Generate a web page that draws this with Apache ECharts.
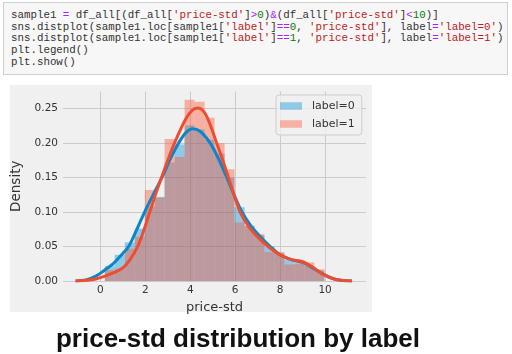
<!DOCTYPE html>
<html>
<head>
<meta charset="utf-8">
<script src="https://cdn.jsdelivr.net/npm/echarts@6/dist/echarts.min.js"></script>
<style>
  html, body { margin: 0; padding: 0; background: #fff; }
  #page { position: relative; width: 512px; height: 354px; overflow: hidden; }
  #code {
    position: absolute; left: 3px; top: 2px; width: 505px; height: 73px;
    background: #f7f7f7; border: 1px solid #cfcfcf; box-sizing: border-box;
    font-family: "Liberation Mono", monospace; font-size: 10.8px; line-height: 11.7px;
    color: #333; padding: 7px 0 0 7px; white-space: pre;
  }
  .s { color: #ba2121; } .o { color: #aa22ff; } .n { color: #008000; }
  #fig { position: absolute; left: 10px; top: 85px; width: 362px; height: 227px; background: #f0f0f0; }
  #chart { position: absolute; left: 0; top: 0; width: 512px; height: 354px; }
  #caption {
    position: absolute; left: 0; width: 476px; top: 323px; text-align: center;
    font-family: "Liberation Sans", Arial, sans-serif; font-weight: bold; font-size: 26px;
    line-height: 30px; color: #111;
  }
</style>
</head>
<body>
<div id="page">
  <div id="code">sample1 <span class="o">=</span> df_all[(df_all[<span class="s">'price-std'</span>]<span class="o">&gt;</span><span class="n">0</span>)<span class="o">&amp;</span>(df_all[<span class="s">'price-std'</span>]<span class="o">&lt;</span><span class="n">10</span>)]
sns.distplot(sample1.loc[sample1[<span class="s">'label'</span>]<span class="o">==</span><span class="n">0</span>, <span class="s">'price-std'</span>], label<span class="o">=</span><span class="s">'label=0'</span>)
sns.distplot(sample1.loc[sample1[<span class="s">'label'</span>]<span class="o">==</span><span class="n">1</span>, <span class="s">'price-std'</span>], label<span class="o">=</span><span class="s">'label=1'</span>)
plt.legend()
plt.show()</div>
  <div id="fig"></div>
  <div id="chart"></div>
  <div id="caption">price-std distribution by label</div>
</div>
<script>
// histogram bin edges (shared by both labels)
var binEdges = [0.20, 0.64, 1.09, 1.53, 1.98, 2.42, 2.86, 3.31, 3.75, 4.19, 4.64, 5.08,
                5.53, 5.97, 6.42, 6.86, 7.30, 7.75, 8.19, 8.64, 9.08, 9.52, 9.97];
// bar heights (density)
var hist0 = [0.022, 0.038, 0.056, 0.076, 0.108, 0.122, 0.172, 0.198, 0.226, 0.220, 0.205,
             0.185, 0.150, 0.107, 0.080, 0.066, 0.050, 0.040, 0.031, 0.025, 0.022, 0.015];
var hist1 = [0.016, 0.018, 0.047, 0.064, 0.132, 0.121, 0.206, 0.180, 0.263, 0.260, 0.237,
             0.200, 0.162, 0.085, 0.080, 0.068, 0.042, 0.042, 0.024, 0.030, 0.027, 0.017];

// kde curves
var kdeX0 = [-1.1, -0.6, -0.2, 0.2, 0.6, 1.0, 1.26, 1.6, 1.97, 2.35, 2.74, 3.1, 3.48, 3.8, 4.1,
             4.45, 4.89, 5.25, 5.63, 5.95, 6.3, 6.7, 7.1, 7.56, 8.0, 8.5, 9.0, 9.4, 9.85, 10.3, 10.7, 11.2];
var kdeY0 = [0.000, 0.002, 0.007, 0.016, 0.026, 0.040, 0.050, 0.073, 0.100, 0.125, 0.150, 0.176, 0.200, 0.215, 0.221,
             0.217, 0.200, 0.178, 0.150, 0.125, 0.100, 0.080, 0.065, 0.050, 0.038, 0.031, 0.027, 0.020, 0.011, 0.004, 0.001, 0.000];
var kdeX1 = [-1.1, -0.6, -0.2, 0.2, 0.6, 1.0, 1.3, 1.66, 1.95, 2.2, 2.45, 2.72, 3.0, 3.3, 3.8, 4.1, 4.35,
             4.7, 5.18, 5.45, 5.70, 5.95, 6.22, 6.6, 7.0, 7.5, 8.0, 8.5, 9.0, 9.4, 9.85, 10.3, 10.7, 11.2];
var kdeY1 = [0.000, 0.001, 0.003, 0.007, 0.012, 0.019, 0.030, 0.050, 0.075, 0.100, 0.125, 0.150, 0.175, 0.200, 0.235, 0.248, 0.251,
             0.241, 0.200, 0.175, 0.150, 0.125, 0.100, 0.079, 0.064, 0.049, 0.038, 0.031, 0.028, 0.021, 0.011, 0.004, 0.001, 0.000];

var xTicks = [0, 2, 4, 6, 8, 10];
var yTicks = [0, 0.05, 0.10, 0.15, 0.20, 0.25];

function histData(h) {
    var out = [];
    for (var i = 0; i < h.length; i++) out.push([binEdges[i], binEdges[i + 1], h[i]]);
    return out;
}
function lineData(xs, ys) {
    return xs.map(function (x, i) { return [x, ys[i]]; });
}
// 直方图矩形
function renderBar(params, api) {
    var p0 = api.coord([api.value(0), api.value(2)]);
    var p1 = api.coord([api.value(1), 0]);
    return {
        type: 'rect',
        shape: { x: p0[0], y: p0[1], width: p1[0] - p0[0], height: p1[1] - p0[1] },
        style: { fill: api.visual('color') }
    };
}

var tickFont = { color: '#333', fontSize: 10.5, fontFamily: 'DejaVu Sans' };

var option = {
    animation: false,
    grid: { left: 63, right: 146, top: 91.5, bottom: 73, outerBoundsMode: 'none' },
    legend: {
        data: ['label=0', 'label=1'],
        orient: 'vertical',
        left: 276, top: 95,
        icon: 'rect',
        itemWidth: 22, itemHeight: 7.5, itemGap: 4,
        padding: [4, 7, 4, 4],
        backgroundColor: 'rgba(240,240,240,0.8)',
        borderColor: '#cccccc', borderWidth: 1, borderRadius: 3,
        textStyle: { color: '#333', fontSize: 11, fontFamily: 'DejaVu Sans', lineHeight: 14, padding: [0, 0, 0, 5] }
    },
    xAxis: {
        type: 'value', min: -1.66, max: 11.82,
        name: 'price-std', nameLocation: 'middle', nameGap: 17,
        nameTextStyle: { color: '#333', fontSize: 13, fontFamily: 'DejaVu Sans' },
        axisLine: { show: false },
        axisTick: { show: false, customValues: xTicks },
        axisLabel: Object.assign({ customValues: xTicks, margin: 4 }, tickFont),
        splitLine: { show: true, lineStyle: { color: '#cbcbcb', width: 1 } }
    },
    yAxis: {
        type: 'value', min: 0, max: 0.275,
        name: 'Density', nameLocation: 'middle', nameGap: 32, nameRotate: 90,
        nameTextStyle: { color: '#333', fontSize: 13.5, fontFamily: 'DejaVu Sans' },
        axisLine: { show: false },
        axisTick: { show: false, customValues: yTicks },
        axisLabel: Object.assign({ customValues: yTicks, margin: 5,
            formatter: function (v) { return v.toFixed(2); } }, tickFont),
        splitLine: { show: true, lineStyle: { color: '#cbcbcb', width: 1 } }
    },
    series: [
        {
            name: 'label=0', type: 'custom', renderItem: renderBar, z: 2,
            itemStyle: { color: 'rgba(0,143,213,0.4)' },
            encode: { x: [0, 1], y: 2 },
            data: histData(hist0)
        },
        {
            name: 'label=1', type: 'custom', renderItem: renderBar, z: 2,
            itemStyle: { color: 'rgba(252,79,48,0.4)' },
            encode: { x: [0, 1], y: 2 },
            data: histData(hist1)
        },
        {
            name: 'kde0', type: 'line', smooth: 0.35, showSymbol: false, z: 3,
            lineStyle: { color: '#0b86c8', width: 3 },
            data: lineData(kdeX0, kdeY0)
        },
        {
            name: 'kde1', type: 'line', smooth: 0.35, showSymbol: false, z: 4,
            lineStyle: { color: '#ee4d30', width: 3 },
            data: lineData(kdeX1, kdeY1)
        }
    ]
};

var chart = echarts.init(document.getElementById('chart'));
chart.setOption(option);
</script>
</body>
</html>
